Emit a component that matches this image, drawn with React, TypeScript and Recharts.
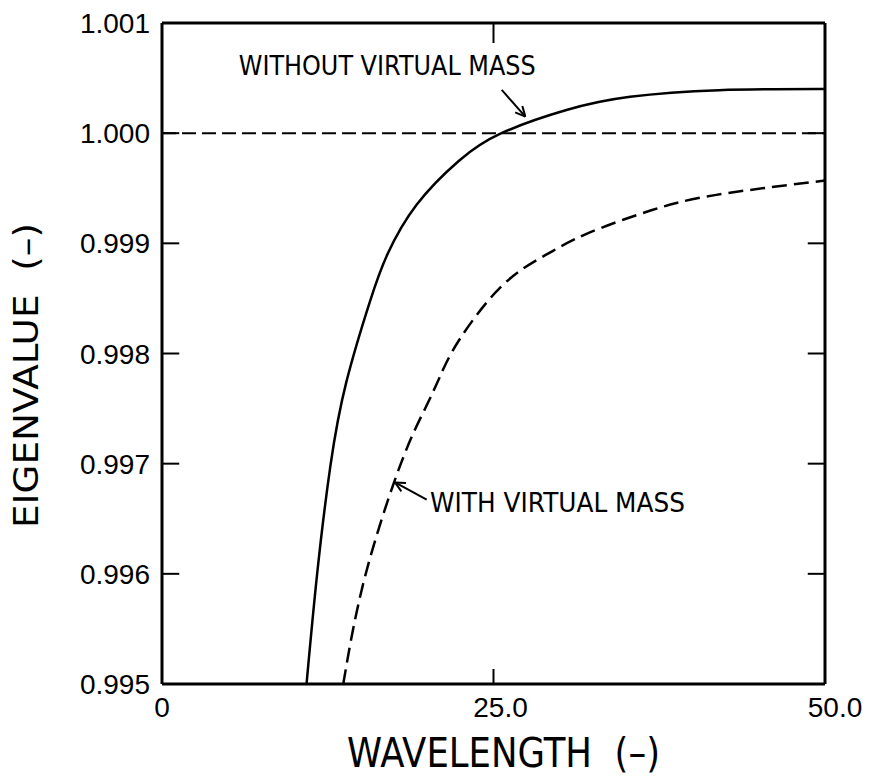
import React from 'react';
import { LineChart, Line, XAxis, YAxis, ReferenceLine, ReferenceDot } from 'recharts';

// eigenvalue vs wavelength
const noVmWavelength = [10.9, 11.7, 12.7, 13.9, 15.65, 17.0, 19.2, 22.4, 25.6, 30.5, 35.3, 42.0, 50.0];
const noVmEigen = [0.995, 0.996, 0.99698, 0.99774, 0.99846, 0.9989, 0.99935, 0.99975, 1.0, 1.00021, 1.00033, 1.00039, 1.0004];

const vmWavelength = [13.67, 15.3, 17.95, 19.8, 20.96, 22.4, 25.6, 28.87, 32.1, 36.9, 41.8, 50.0];
const vmEigen = [0.995, 0.99597, 0.99698, 0.99749, 0.99779, 0.99812, 0.99861, 0.99889, 0.99909, 0.9993, 0.99944, 0.99957];

const xTicks = [0, 25, 50];
const xTickLabels = ['0', '25.0', '50.0'];
const yTicks = [0.995, 0.996, 0.997, 0.998, 0.999, 1.0, 1.001];
const innerYTicks = [0.996, 0.997, 0.998, 0.999, 1.0];

// inward tick lengths, in axis units
const sideTickLen = 1.3;
const topTickLen = 0.00018;

const noVmData = noVmWavelength.map((x, i) => ({ x, y: noVmEigen[i] }));
const vmData = vmWavelength.map((x, i) => ({ x, y: vmEigen[i] }));

const numFont = '"Liberation Sans", Arial, sans-serif';
const letterFont = '"DejaVu Sans", sans-serif';
const tickStroke = { stroke: '#000', strokeWidth: 2 };
const frame = { stroke: '#000', strokeWidth: 3 };

const LeftTick = (props: any) => {
  const { x, y, payload } = props;
  return (
    <text x={x} y={y} dy={10} textAnchor="end" fontSize={28} fontFamily={numFont} fill="#000">
      {payload.value.toFixed(3)}
    </text>
  );
};

const BottomTick = (props: any) => {
  const { x, y, index } = props;
  const nudge = [0, 7, 10][index] || 0;
  return (
    <text x={x + nudge} y={y} dy={33} textAnchor="middle" fontSize={28} fontFamily={numFont} fill="#000">
      {xTickLabels[index]}
    </text>
  );
};

function arrowNote(text: string, tail: [number, number], txt: [number, number], len: number) {
  return (props: any) => {
    const { viewBox } = props;
    const tx = viewBox.x + (viewBox.width || 0) / 2;
    const ty = viewBox.y + (viewBox.height || 0) / 2;
    const sx = tx + tail[0];
    const sy = ty + tail[1];
    const ang = Math.atan2(ty - sy, tx - sx);
    const b = 11;
    const spread = 0.45;
    return (
      <g>
        <line x1={sx} y1={sy} x2={tx} y2={ty} stroke="#000" strokeWidth={2} />
        <line x1={tx} y1={ty} x2={tx - b * Math.cos(ang - spread)} y2={ty - b * Math.sin(ang - spread)} stroke="#000" strokeWidth={2} />
        <line x1={tx} y1={ty} x2={tx - b * Math.cos(ang + spread)} y2={ty - b * Math.sin(ang + spread)} stroke="#000" strokeWidth={2} />
        <text x={tx + txt[0]} y={ty + txt[1]} fontSize={27} fontFamily={letterFont} fill="#000" textLength={len} lengthAdjust="spacingAndGlyphs">
          {text}
        </text>
      </g>
    );
  };
}

// short downward tick under the top frame, drawn from the 25.0 point on the top edge
const topTickMark = (props: any) => {
  const { viewBox } = props;
  const x = viewBox.x + (viewBox.width || 0) / 2;
  const y = viewBox.y + (viewBox.height || 0) / 2;
  return <line x1={x} y1={y} x2={x} y2={y + 20} stroke="#000" strokeWidth={2} />;
};

const XTitle = (props: any) => {
  const { viewBox } = props;
  const cx = viewBox.x + viewBox.width / 2 + 10;
  return (
    <text x={cx} y={767} textAnchor="middle" fontSize={40} fontFamily={letterFont} fill="#000" textLength={313} lengthAdjust="spacingAndGlyphs" style={{ whiteSpace: 'pre' }}>
      WAVELENGTH  (–)
    </text>
  );
};

const YTitle = (props: any) => {
  const { viewBox } = props;
  const cy = viewBox.y + viewBox.height / 2 + 22;
  return (
    <text x={38} y={cy} transform={`rotate(-90 38 ${cy})`} textAnchor="middle" fontSize={34} fontFamily={letterFont} fill="#000" textLength={305} lengthAdjust="spacingAndGlyphs" style={{ whiteSpace: 'pre' }}>
      EIGENVALUE  (–)
    </text>
  );
};

export default function App() {
  return (
    <div style={{ position: 'absolute', left: 0, top: 0, width: 873, height: 783, background: '#fff' }}>
      <LineChart width={873} height={783} margin={{ top: 0, right: 0, bottom: 0, left: 0 }}>
        <XAxis
          dataKey="x"
          type="number"
          domain={[0, 50]}
          ticks={xTicks}
          interval={0}
          height={99}
          tickSize={-15}
          tickMargin={15}
          tickLine={tickStroke}
          tick={<BottomTick />}
          axisLine={frame}
          allowDataOverflow
          label={{ content: XTitle }}
        />
        <XAxis
          xAxisId="top"
          orientation="top"
          type="number"
          domain={[0, 50]}
          ticks={xTicks}
          height={23}
          tickLine={false}
          tick={false}
          axisLine={frame}
        />
        <YAxis
          type="number"
          domain={[0.995, 1.001]}
          ticks={yTicks}
          interval={0}
          width={162}
          tickSize={0}
          tickMargin={12}
          tickLine={false}
          tick={<LeftTick />}
          axisLine={frame}
          allowDataOverflow
          label={{ content: YTitle }}
        />
        <YAxis
          yAxisId="right"
          orientation="right"
          type="number"
          domain={[0.995, 1.001]}
          ticks={yTicks}
          width={48}
          tickLine={false}
          tick={false}
          axisLine={frame}
        />
        {innerYTicks.map((v) => (
          <ReferenceLine key={'l' + v} segment={[{ x: 0, y: v }, { x: sideTickLen, y: v }]} stroke="#000" strokeWidth={2} ifOverflow="visible" />
        ))}
        {innerYTicks.map((v) => (
          <ReferenceLine key={'r' + v} segment={[{ x: 50 - sideTickLen, y: v }, { x: 50, y: v }]} stroke="#000" strokeWidth={2} ifOverflow="visible" />
        ))}
        <ReferenceDot x={25} y={1.001} r={0} fill="none" stroke="none" ifOverflow="visible" label={{ content: topTickMark }} />
        <ReferenceLine y={1.0} stroke="#000" strokeWidth={2} strokeDasharray="14 6" />
        <Line
          data={noVmData}
          dataKey="y"
          type="natural"
          stroke="#000"
          strokeWidth={2.5}
          dot={false}
          isAnimationActive={false}
        />
        <Line
          data={vmData}
          dataKey="y"
          type="natural"
          stroke="#000"
          strokeWidth={2.5}
          strokeDasharray="15 7"
          dot={false}
          isAnimationActive={false}
        />
        <ReferenceDot
          x={27.4}
          y={1.00015}
          r={0}
          fill="none"
          stroke="none"
          label={{ content: arrowNote('WITHOUT VIRTUAL MASS', [-23.6, -26.7], [-286.6, -41.7], 297) }}
        />
        <ReferenceDot
          x={17.57}
          y={0.99683}
          r={0}
          fill="none"
          stroke="none"
          label={{ content: arrowNote('WITH VIRTUAL MASS', [31.7, 17.3], [35, 29.3], 255) }}
        />
      </LineChart>
    </div>
  );
}
